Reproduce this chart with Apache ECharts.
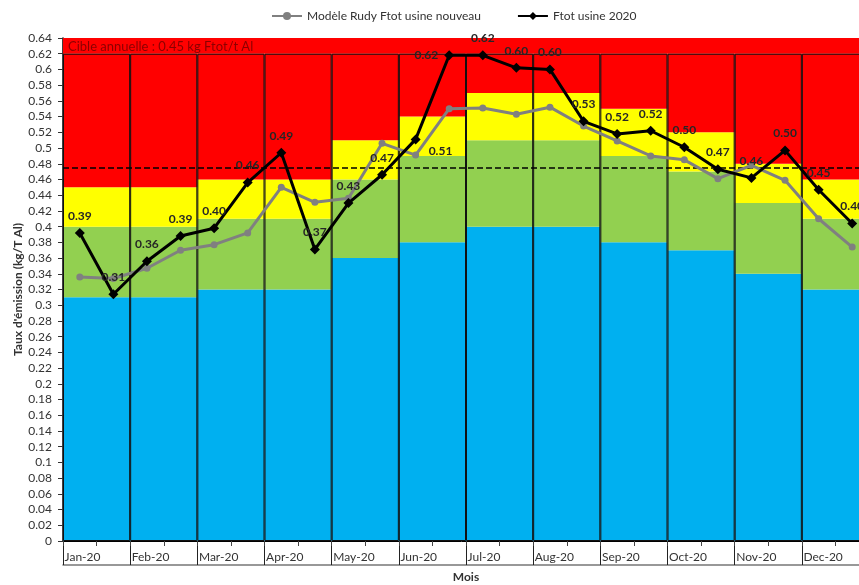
<!DOCTYPE html>
<html lang="fr">
<head>
    <meta charset="UTF-8">
    <title>Taux d'émission Ftot 2020</title>
    <script src="https://cdn.jsdelivr.net/npm/echarts@6/dist/echarts.min.js"></script>
</head>
<body style="margin:0">
<div id="main" style="width: 859px;height:585px;"></div>
<script type="text/javascript">
    // mois
    var months = ['Jan-20', 'Feb-20', 'Mar-20', 'Apr-20', 'May-20', 'Jun-20',
        'Jul-20', 'Aug-20', 'Sep-20', 'Oct-20', 'Nov-20', 'Dec-20'];

    // limites des zones (haut de chaque couleur)
    var blueTop   = [0.31, 0.31, 0.32, 0.32, 0.36, 0.38, 0.40, 0.40, 0.38, 0.37, 0.34, 0.32];
    var greenTop  = [0.40, 0.40, 0.41, 0.41, 0.46, 0.49, 0.51, 0.51, 0.49, 0.47, 0.43, 0.41];
    var yellowTop = [0.45, 0.45, 0.46, 0.46, 0.51, 0.54, 0.57, 0.57, 0.55, 0.52, 0.48, 0.46];
    var redTop    = [0.62, 0.62, 0.62, 0.62, 0.62, 0.62, 0.62, 0.62, 0.62, 0.62, 0.62, 0.62];

    // deux mesures par mois
    var ftot2020 = [0.392, 0.314, 0.356, 0.388, 0.398, 0.456, 0.494, 0.371, 0.430, 0.466, 0.511, 0.618,
        0.618, 0.602, 0.600, 0.534, 0.518, 0.522, 0.501, 0.473, 0.462, 0.497, 0.447, 0.404];
    var modele = [0.336, 0.334, 0.347, 0.370, 0.377, 0.392, 0.450, 0.431, 0.436, 0.506, 0.491, 0.550,
        0.551, 0.543, 0.552, 0.528, 0.509, 0.490, 0.485, 0.461, 0.478, 0.459, 0.410, 0.374];

    var cible = 0.475;
    var yMax = 0.64;

    var slots = [];
    months.forEach(function (m) { slots.push(m + ' a', m + ' b'); });

    function diff(top, bottom) {
        return top.map(function (v, i) { return Math.round((v - bottom[i]) * 1000) / 1000; });
    }

    // quelques étiquettes placées autrement
    var labelPlace = {10: {position: 'right', offset: [2, 12]}, 11: {position: 'left'}};
    var ftotData = ftot2020.map(function (v, i) {
        var item = {value: v};
        if (labelPlace[i]) item.label = labelPlace[i];
        return item;
    });

    var font = 'Lato, "Open Sans", sans-serif';
    var myChart = echarts.init(document.getElementById('main'));

    function band(name, data, color) {
        return {
            name: name, type: 'bar', stack: 'zones', data: data,
            xAxisIndex: 0, barCategoryGap: 0, barGap: '-100%',
            itemStyle: {color: color}, silent: true
        };
    }

    var option = {
        animation: false,
        textStyle: {fontFamily: font},
        grid: {left: 63, right: -10, top: 38, bottom: 44, containLabel: false, outerBoundsMode: 'none'},
        legend: {
            top: 5, left: 266, itemWidth: 30, itemHeight: 10, itemGap: 36,
            textStyle: {fontSize: 12, color: '#333', fontFamily: font},
            data: ['Modèle Rudy Ftot usine nouveau', 'Ftot usine 2020']
        },
        xAxis: [
            {
                type: 'category', data: months, boundaryGap: true,
                axisLine: {lineStyle: {color: '#000', width: 1}},
                axisTick: {show: true, length: 24, interval: 0, lineStyle: {color: '#222'}},
                axisLabel: {
                    margin: 10, color: '#333', fontSize: 12, interval: 0,
                    formatter: function (v) { return '{a|' + v + '}'; },
                    rich: {a: {width: 64, align: 'left', fontSize: 12, color: '#333', fontFamily: font}}
                },
                splitLine: {show: false}
            },
            {
                type: 'category', data: slots, boundaryGap: true, position: 'bottom',
                axisLine: {show: false},
                axisTick: {show: true, length: 5, interval: 0, lineStyle: {color: '#444'}},
                axisLabel: {show: false}, splitLine: {show: false}
            },
            {
                type: 'category', data: months, position: 'bottom', offset: 24,
                axisLine: {show: true, lineStyle: {color: '#777', width: 1.5}},
                axisTick: {show: false}, axisLabel: {show: false},
                name: 'Mois', nameLocation: 'middle', nameGap: 6, nameMoveOverlap: false,
                nameTextStyle: {fontWeight: 'bold', fontSize: 12, color: '#333', fontFamily: font}
            }
        ],
        yAxis: {
            type: 'value', min: 0, max: yMax, interval: 0.02,
            name: "Taux d'émission (kg/T Al)", nameLocation: 'middle', nameGap: 39, nameRotate: 90,
            nameMoveOverlap: false,
            nameTextStyle: {fontWeight: 'bold', fontSize: 12, color: '#333', fontFamily: font},
            axisLine: {show: true, lineStyle: {color: '#000', width: 1.5}},
            axisTick: {show: true, length: 5, lineStyle: {color: '#333'}},
            axisLabel: {margin: 11, color: '#333', fontSize: 12},
            splitLine: {show: false}
        },
        series: [
            band('bleu', blueTop, '#00B0F0'),
            band('vert', diff(greenTop, blueTop), '#92D050'),
            band('jaune', diff(yellowTop, greenTop), '#FFFF00'),
            band('rouge', diff(redTop, yellowTop), '#FF0000'),
            {
                name: 'cadre', type: 'bar', data: redTop, xAxisIndex: 0,
                barCategoryGap: 0, barGap: '-100%', silent: true, z: 3,
                itemStyle: {color: 'rgba(0,0,0,0)', borderColor: '#111', borderWidth: 1},
                markArea: {
                    silent: true,
                    itemStyle: {color: '#FF0000'},
                    label: {
                        show: true, position: 'insideLeft', offset: [0, 1],
                        color: '#8B0000', fontSize: 13, fontFamily: font
                    },
                    data: [[{yAxis: redTop[0], name: 'Cible annuelle : 0.45 kg Ftot/t Al'}, {yAxis: yMax}]]
                },
                markLine: {
                    silent: true, symbol: 'none', precision: 4,
                    label: {show: false},
                    lineStyle: {color: '#000', type: [6, 3], width: 1.5},
                    data: [{yAxis: cible}]
                }
            },
            {
                name: 'Modèle Rudy Ftot usine nouveau', type: 'line', xAxisIndex: 1,
                data: modele, z: 5,
                symbol: 'circle', symbolSize: 7,
                lineStyle: {color: '#808080', width: 3},
                itemStyle: {color: '#808080'}
            },
            {
                name: 'Ftot usine 2020', type: 'line', xAxisIndex: 1,
                data: ftotData, z: 6,
                symbol: 'diamond', symbolSize: 10,
                lineStyle: {color: '#000', width: 3},
                itemStyle: {color: '#000'},
                label: {
                    show: true, position: 'top', distance: 6,
                    fontWeight: 'bold', fontSize: 12, color: '#262626', fontFamily: font,
                    formatter: function (p) { return p.value.toFixed(2); }
                }
            }
        ]
    };

    myChart.setOption(option);
</script>
</body>
</html>
